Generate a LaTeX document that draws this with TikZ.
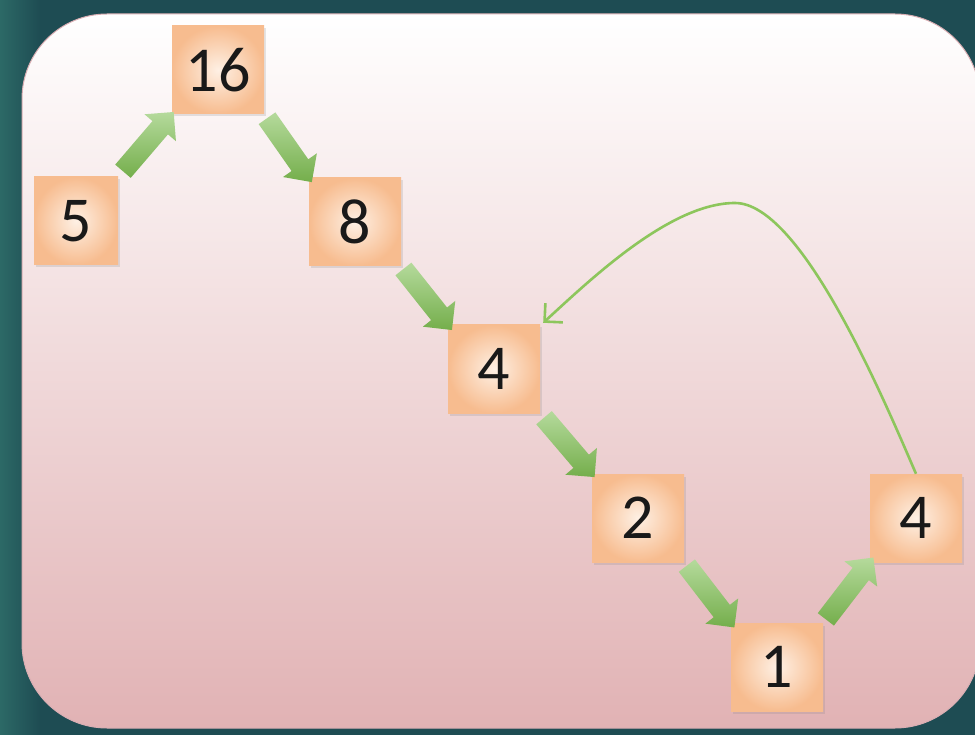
\documentclass[tikz,border=0pt]{standalone}
\usepackage{fontspec}
\setmainfont{Carlito}
\usetikzlibrary{shapes.arrows,shadows,arrows.meta,calc}
\definecolor{tealbg}{HTML}{1E4C53}
\definecolor{teallight}{HTML}{2C6966}
\definecolor{panelborder}{HTML}{D9AEB3}
\definecolor{pinkmid}{HTML}{F1D8DA}
\definecolor{pinkbot}{HTML}{E1B2B4}
\definecolor{boxin}{HTML}{FEF0E4}
\definecolor{boxout}{HTML}{F7BC8F}
\definecolor{greenlight}{HTML}{B5DA9C}
\definecolor{greendark}{HTML}{74AE4B}
\definecolor{greenline}{HTML}{8DC65C}
\begin{document}
\begin{tikzpicture}[x=1pt,y=-1pt,
  numbox/.style={minimum width=92pt, minimum height=88pt, inner sep=0pt,
    shading=radial, inner color=boxin, outer color=boxout,
    font=\fontsize{64}{64}\selectfont, text=black!90,
    drop shadow={opacity=0.2, shadow xshift=1.5pt, shadow yshift=-2.5pt}},
  blockarrow/.style={single arrow, minimum height=78pt, inner xsep=0pt,
    inner ysep=10pt, single arrow head extend=10.5pt, shading=axis,
    top color=greenlight, bottom color=greendark},
  backarrow/.style={draw=greenline, line width=2.6pt,
    -{Straight Barb[length=13pt,width=26pt]}}]
\useasboundingbox (0,0) rectangle (975,735);
\shade[left color=teallight, right color=tealbg] (0,0) rectangle (40,735);
\fill[tealbg] (40,0) rectangle (975,735);
\draw[draw=panelborder, line width=1pt, rounded corners=85pt,
  top color=white, middle color=pinkmid, bottom color=pinkbot]
  (22,14) rectangle (980,728);

\node[numbox, minimum width=84pt] (b5) at (76,221) {5};
\node[numbox] (b16) at (218,70) {16};
\node[numbox] (b8) at (355,222) {8};
\node[numbox] (c4) at (494,369) {4};
\node[numbox] (b2) at (638,518) {2};
\node[numbox] (b1) at (777,667) {1};
\node[numbox] (rb4) at (916,518) {4};

\path (b5.north east) -- (b16.south west) node[midway, sloped, blockarrow] (a1) {};
\path (b16.south east) -- (b8.north west) node[midway, sloped, blockarrow] (a2) {};
\path (b8.south east) -- (c4.north west) node[midway, sloped, blockarrow] (a3) {};
\path (c4.south east) -- (b2.north west) node[midway, sloped, blockarrow] (a4) {};
\path (b2.south east) -- (b1.north west) node[midway, sloped, blockarrow] (a5) {};
\path (b1.north east) -- (rb4.south west) node[midway, sloped, blockarrow] (a6) {};

\coordinate (peak) at (735,203);
\draw[backarrow] (rb4.north) .. controls (880,390) and (800,203) .. (peak)
  .. controls (670,203) and (590,280) .. ([shift={(3,-2)}]c4.north east);
\end{tikzpicture}
\end{document}
